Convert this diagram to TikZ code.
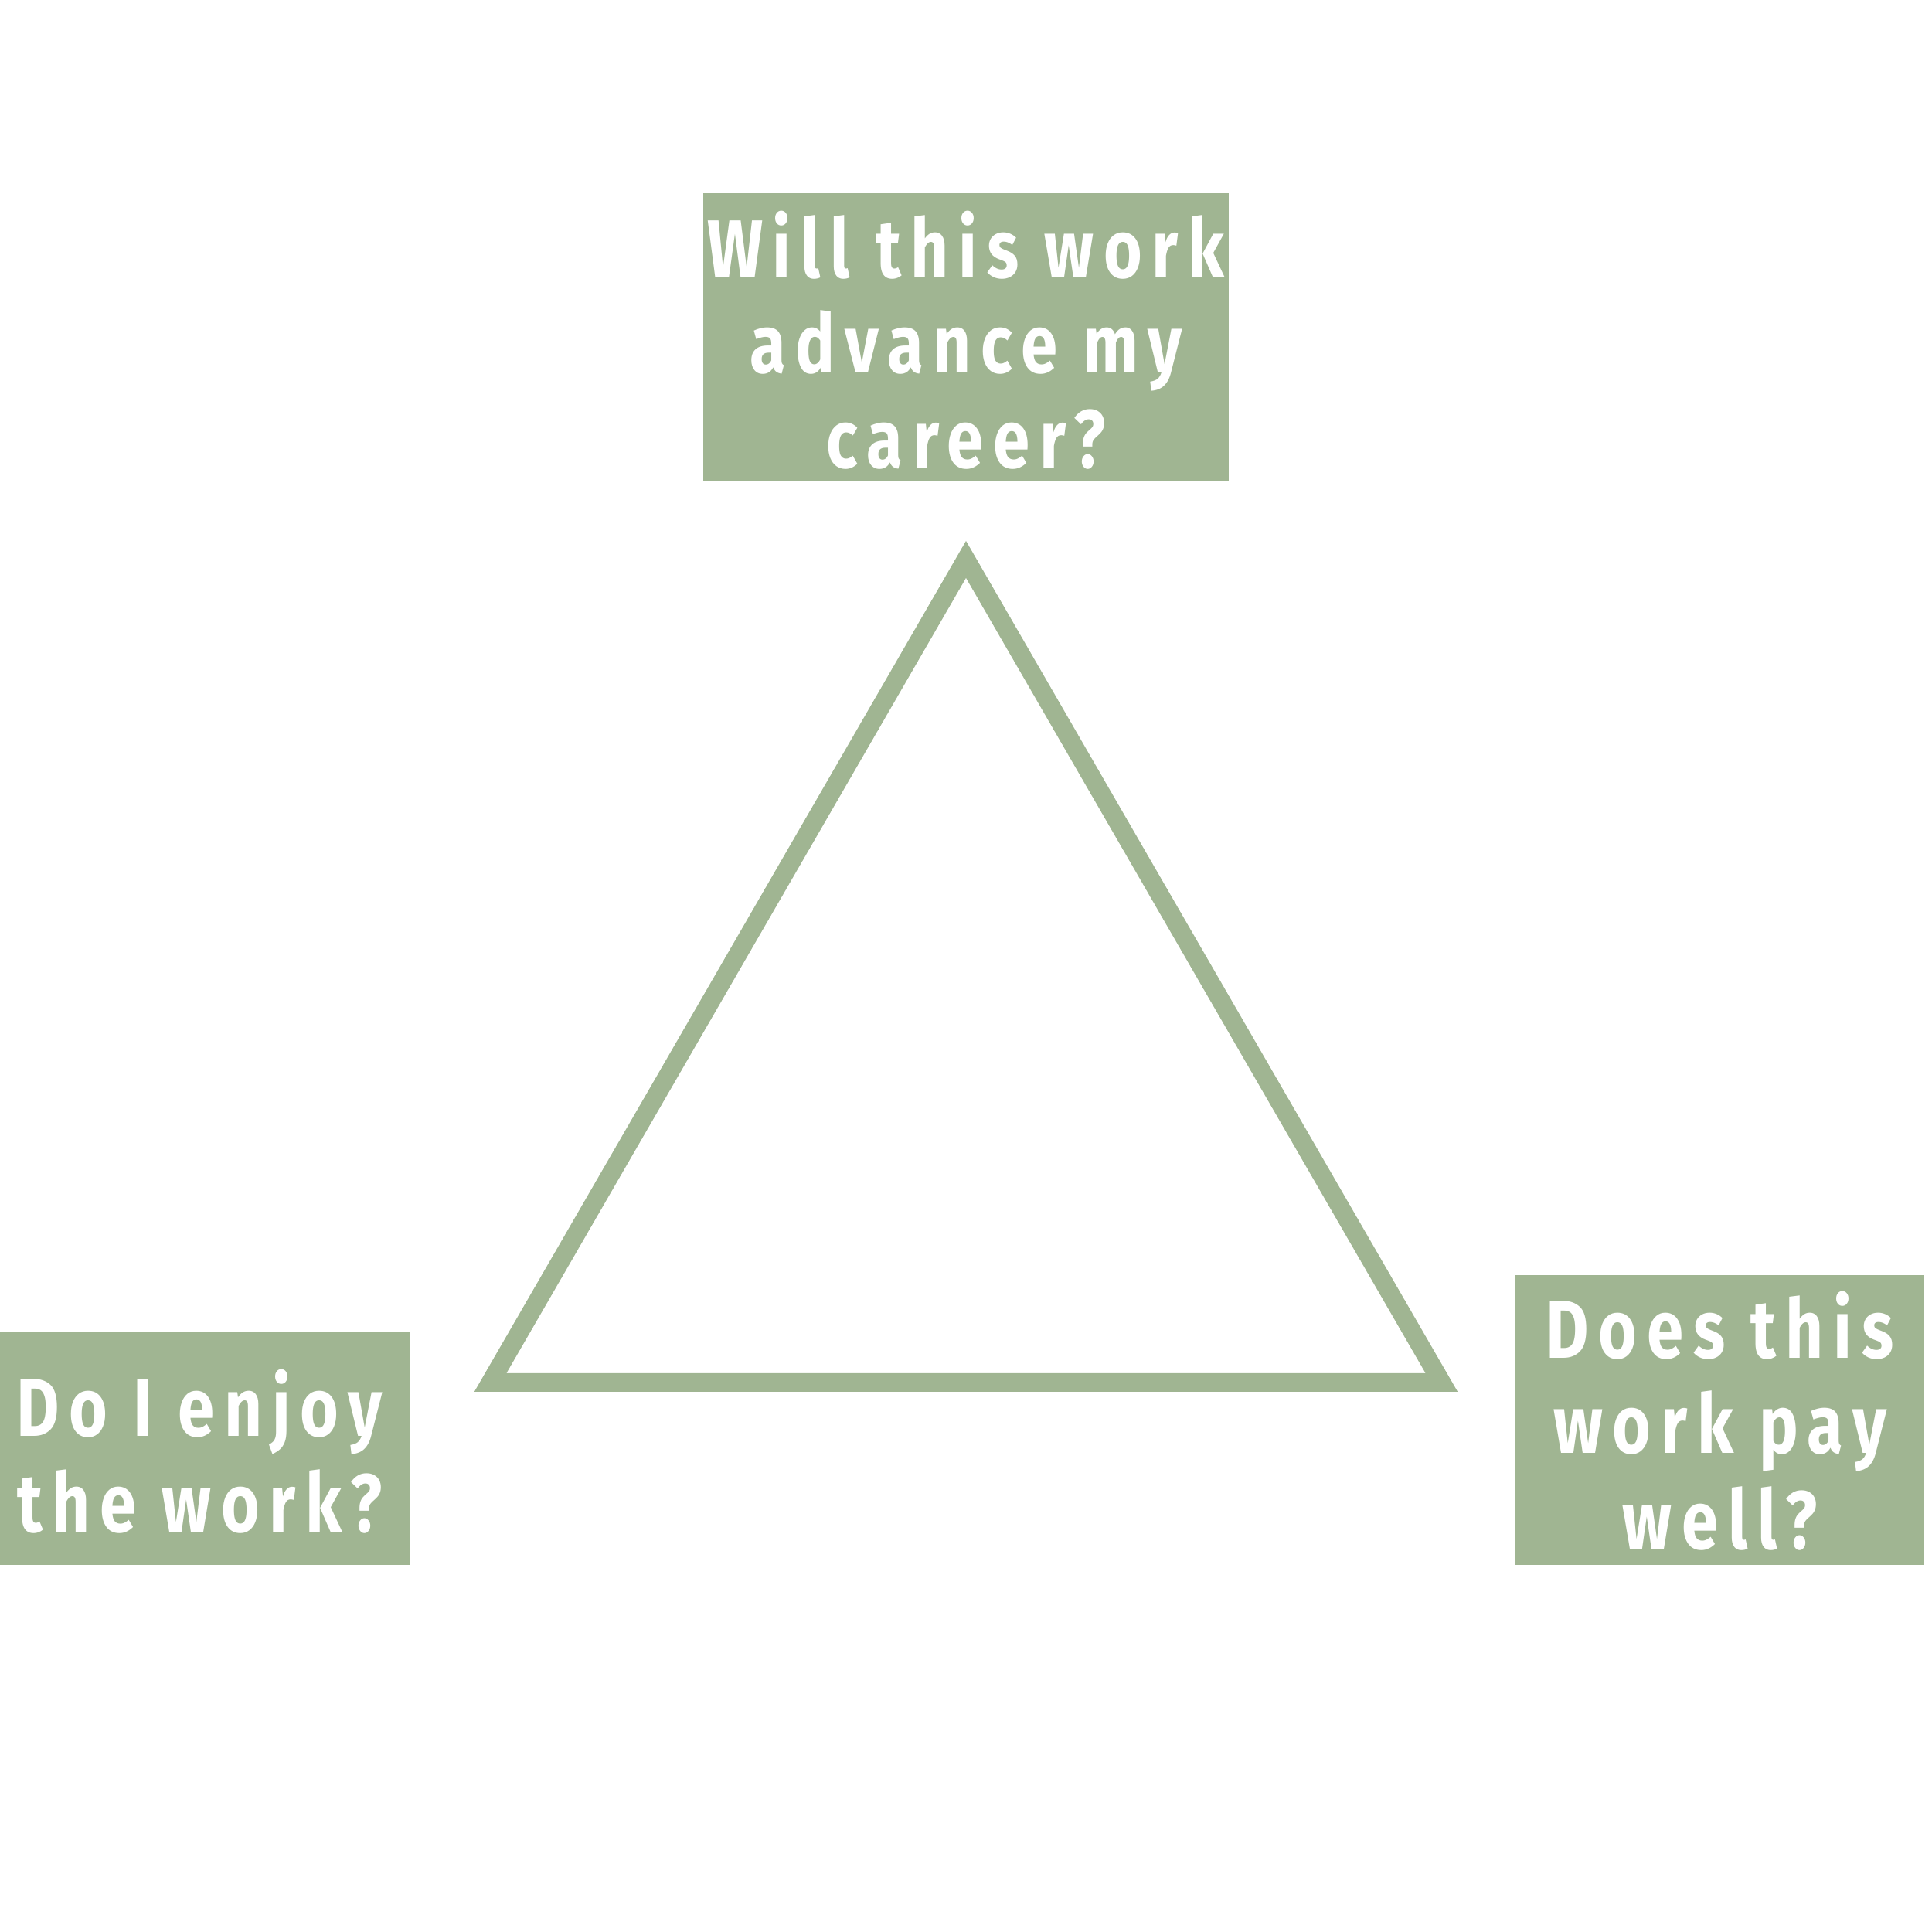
\documentclass[tikz,border=0pt]{standalone}
\usepackage{fontspec}
\setmainfont{Fira Sans}[UprightFont=* Bold, LetterSpace=12, FakeStretch=0.8]
\definecolor{sage}{HTML}{A0B592}
\begin{document}
\begin{tikzpicture}[x=0.01cm,y=-0.01cm,
  box/.style={fill=sage,draw=none,text=white,align=center,font=\fontsize{19}{22}\selectfont,inner sep=0}]
\useasboundingbox (0,0) rectangle (1568,1568);
\fill[sage] (571,157) rectangle (997,391);
\node[box] (top) at (784,276) {Will this work\\advance my\\career?};
\fill[sage] (0,1081) rectangle (333,1270);
\node[box] (left) at (162,1178) {Do I enjoy\\the work?};
\fill[sage] (1229,1035) rectangle (1562,1270);
\node[box] (right) at (1396,1153) {Does this\\work pay\\well?};
\draw[sage,line width=0.15cm,miter limit=10] (784,454) -- (1170,1122) -- (398,1122) -- cycle;
\end{tikzpicture}
\end{document}
